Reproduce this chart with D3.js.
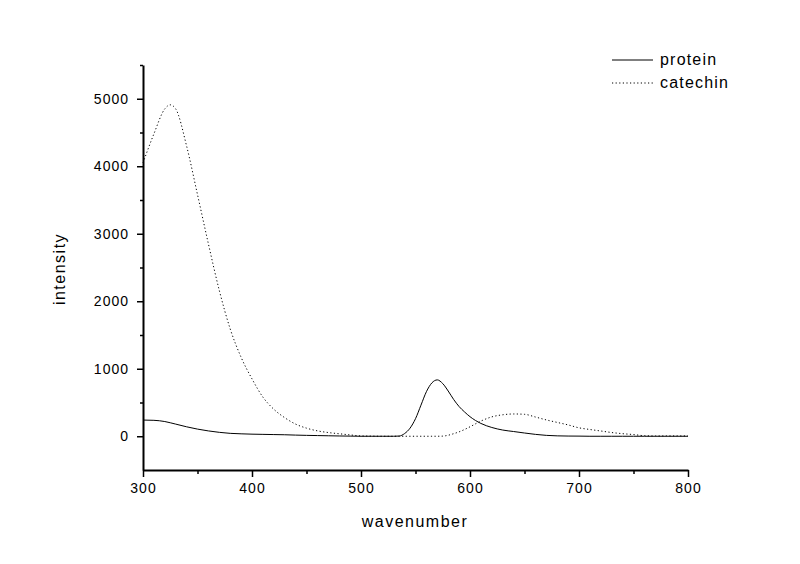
<!DOCTYPE html>
<html>
<head>
<meta charset="utf-8">
<script src="https://cdn.jsdelivr.net/npm/d3@7"></script>
<style>
  body { margin: 0; background: #fff; }
  svg text { font-family: "Liberation Sans", Arial, sans-serif; fill: #000; }
</style>
</head>
<body>
<div id="chart"></div>
<script>
// wavenumber samples shared by both series
const wavenumber = [300, 310, 320, 325, 330, 340, 350, 360, 370, 380, 390, 400, 410, 420, 430, 440, 450, 460, 470, 480,
  490, 500, 510, 520, 530, 535, 540, 545, 550, 555, 560, 565, 570, 575, 580, 585, 590, 595, 600, 610,
  620, 630, 640, 650, 660, 670, 680, 690, 700, 710, 720, 730, 740, 750, 760, 770, 780, 790, 800];

const protein = [240, 236, 218, 200, 180, 140, 106, 79, 58, 43, 36, 31, 28, 25, 22, 17, 13, 10, 7, 4,
  2, 0, 0, 0, 0, 3, 40, 120, 260, 460, 660, 790, 835, 780, 670, 545, 440, 360, 290, 190,
  130, 92, 70, 48, 28, 13, 6, 3, 2, 0, 0, 0, 0, 0, 0, 0, 0, 0, 0];

const catechin = [4050, 4480, 4850, 4910, 4850, 4300, 3580, 2850, 2160, 1590, 1170, 850, 580, 400, 275, 180, 120, 80, 55, 37,
  20, 5, 2, 0, 0, 0, 0, 0, 0, 0, 0, 0, 0, 2, 15, 38, 65, 100, 140, 225,
  287, 318, 330, 325, 285, 242, 205, 168, 125, 100, 78, 55, 38, 25, 8, 4, 5, 5, 5];

const xMajor = [300, 400, 500, 600, 700, 800];
const xMinor = [350, 450, 550, 650, 750];
const yMajor = [0, 1000, 2000, 3000, 4000, 5000];
const yMinor = [500, 1500, 2500, 3500, 4500, 5500];

const seriesNames = ["protein", "catechin"];
const seriesValues = [protein, catechin];
const dashes = [null, "1.2 2.4"];

const w = 800;
const h = 564;
const m = { left: 143, right: 688, top: 65, bottom: 470 };

const svg = d3.select("#chart")
  .append("svg")
  .attr("width", w)
  .attr("height", h);

const x = d3.scaleLinear().domain([300, 800]).range([m.left, m.right]);
const y = d3.scaleLinear().domain([-500, 5500]).range([m.bottom, m.top]);

// curves
const line = d3.line()
  .x(d => x(d[0]))
  .y(d => y(d[1]))
  .curve(d3.curveMonotoneX);

seriesValues.forEach((vals, i) => {
  svg.append("path")
    .datum(wavenumber.map((wn, j) => [wn, vals[j]]))
    .attr("fill", "none")
    .attr("stroke", "#000")
    .attr("stroke-width", 1)
    .attr("stroke-dasharray", dashes[i])
    .attr("d", line);
});

// x axis
svg.append("g")
  .attr("transform", `translate(0,${m.bottom})`)
  .call(d3.axisBottom(x).tickValues(xMajor).tickFormat(d3.format("d"))
    .tickSize(7).tickSizeOuter(0).tickPadding(6));
svg.append("g")
  .attr("transform", `translate(0,${m.bottom})`)
  .call(d3.axisBottom(x).tickValues(xMinor).tickSize(4).tickFormat(""))
  .select(".domain").remove();

// y axis
svg.append("g")
  .attr("transform", `translate(${m.left},0)`)
  .call(d3.axisLeft(y).tickValues(yMajor).tickFormat(d3.format("d"))
    .tickSize(6).tickSizeOuter(0).tickPadding(8));
svg.append("g")
  .attr("transform", `translate(${m.left},0)`)
  .call(d3.axisLeft(y).tickValues(yMinor).tickSize(3).tickFormat(""))
  .select(".domain").remove();

svg.selectAll(".domain").attr("stroke-width", 2);
svg.selectAll(".tick line").attr("stroke-width", 1.5);
svg.selectAll(".tick text")
  .style("font-size", "14px")
  .style("letter-spacing", "1px");

// axis titles
svg.append("text")
  .attr("x", 415)
  .attr("y", 527)
  .style("text-anchor", "middle")
  .style("font-size", "16px")
  .style("letter-spacing", "1.5px")
  .text("wavenumber");

svg.append("text")
  .attr("transform", "rotate(-90)")
  .attr("x", -269)
  .attr("y", 65)
  .style("text-anchor", "middle")
  .style("font-size", "16px")
  .style("letter-spacing", "1.5px")
  .text("intensity");

// legend
const legend = svg.append("g");
seriesNames.forEach((name, i) => {
  const ly = 60 + i * 23;
  legend.append("line")
    .attr("x1", 612)
    .attr("x2", 653)
    .attr("y1", ly)
    .attr("y2", ly)
    .attr("stroke", "#000")
    .attr("stroke-width", 1)
    .attr("stroke-dasharray", dashes[i]);
  legend.append("text")
    .attr("x", 660)
    .attr("y", ly + 5)
    .style("font-size", "16px")
    .style("letter-spacing", "1.2px")
    .text(name);
});
</script>
</body>
</html>
